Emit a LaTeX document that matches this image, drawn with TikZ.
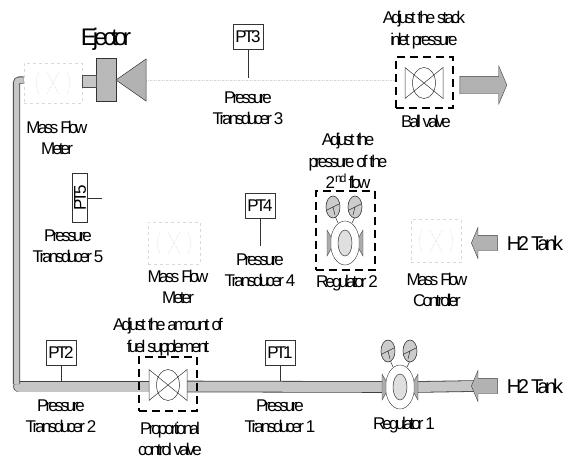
\documentclass[tikz,border=0pt]{standalone}
\usepackage{fontspec}
\setmainfont{Liberation Sans}[LetterSpace=-17]
\usetikzlibrary{arrows.meta,positioning,shapes.geometric,shapes.arrows}

\begin{document}
\begin{tikzpicture}[
    x=1pt, y=-1pt,
    font=\fontsize{17}{21.5}\selectfont,
    lbl/.style={align=center, inner sep=0pt},
    ptbox/.style={draw=black!80, minimum width=30pt, minimum height=25pt, inner sep=0pt},
    taps/.style={draw=black!80, line width=0.6pt},
    pipe/.style={draw=black!75, line width=0.8pt, double=gray!45, double distance=10pt},
    thinpipe/.style={draw=black!75, line width=0.8pt, double=gray!45, double distance=5.5pt, rounded corners=3pt},
    faint/.style={draw=gray!30, dashed, line width=0.6pt},
    faintline/.style={draw=gray!30, densely dotted, line width=0.6pt},
    dashbox/.style={draw, line width=2pt, dash pattern=on 8pt off 5pt},
    bigarrow/.style={single arrow, draw=black!75, fill=gray!60, inner xsep=0pt, inner ysep=7.5pt,
                     minimum height=26pt, single arrow head extend=8pt,
                     single arrow tip angle=134},
    gaugesym/.style={draw=black!80, fill=gray!40, line width=0.6pt},
    valvesym/.pic={
      \draw[black!80, line width=0.5pt, fill=white] (-19,-15.5) -- (19,15.5) -- (19,-15.5) -- (-19,15.5) -- cycle;
      \draw[black!80, line width=0.5pt] (0,0) ellipse [x radius=11.5, y radius=15.5];
    },
    regsym/.pic={
      \fill[gray!65, draw=black!70, line width=0.4pt] (-18,-13) -- (-14,-6) -- (-14,6) -- (-18,13) -- cycle;
      \fill[gray!65, draw=black!70, line width=0.4pt] (18,-13) -- (14,-6) -- (14,6) -- (18,13) -- cycle;
      \draw[black!80, fill=gray!25, line width=0.5pt] (0,0) ellipse [x radius=7, y radius=13];
      \draw[black!80, line width=0.5pt] (-7,-20) -- (-10,-27) (7,-20) -- (10,-26);
      \draw[gaugesym] (-12,-36) ellipse [x radius=7, y radius=11];
      \draw[gaugesym] (10,-36) ellipse [x radius=7, y radius=11];
      \draw[black!80, line width=0.5pt] (-18,-33) -- (-12,-36) -- (-6,-39) (-12,-36) -- (-10,-28);
      \draw[black!80, line width=0.5pt] (4,-33) -- (10,-36) -- (16,-39) (10,-36) -- (8,-28);
    },
    flowsym/.pic={
      \draw[faintline] (-14,-11) .. controls (-18,0) .. (-14,11);
      \draw[faintline] (14,-11) .. controls (18,0) .. (14,11);
      \draw[faintline] (-6,-11) -- (6,11) (6,-11) -- (-6,11);
    }
  ]
    \useasboundingbox (0,0) rectangle (568,459);

    % valves and regulators come first, the pipes end on them
    \node[minimum width=37pt, minimum height=31pt, inner sep=0pt] (pcv) at (168,385) {};
    \node[minimum width=37pt, minimum height=31pt, inner sep=0pt] (ballv) at (424,83) {};
    \node[draw=black!80, fill=white, ellipse, minimum width=29pt, minimum height=44pt, inner sep=0pt] (reg1) at (400,387) {};
    \node[draw=black!80, fill=white, ellipse, minimum width=29pt, minimum height=44pt, inner sep=0pt] (reg2) at (345,243) {};

    % ejector and meters
    \node[draw=black!80, fill=gray!55, minimum width=20pt, minimum height=43pt, inner sep=0pt] (ejbody) at (106,80) {};
    \node[faint, minimum width=58pt, minimum height=40pt, inner sep=0pt] (mfm1) at (53,83) {};
    \node[faint, minimum width=52pt, minimum height=42pt, inner sep=0pt] (mfm2) at (174,243) {};
    \node[faint, minimum width=50pt, minimum height=43pt, inner sep=0pt] (mfc) at (436,241) {};
    \pic at (mfm1) {flowsym};
    \pic at (mfm2) {flowsym};
    \pic at (mfc) {flowsym};
    \node[lbl, font=\fontsize{24}{24}\selectfont, above=8pt of ejbody] (ejtxt) {Ejector};
    \coordinate (tip) at (116,80);
    \coordinate (tipend) at (395,80);
    \coordinate (cornerb) at (19,386.5);
    \coordinate (cornerv) at (16.5,384);

    % pipes
    \draw[pipe, line cap=round] (cornerb) -- (pcv.west |- cornerb);
    \draw[thinpipe] (mfm1.west |- 0,80) -- (16.5,80) -- (cornerv);
    \draw[pipe] (pcv.east |- cornerb) -- (reg1.west);
    \draw[pipe] (reg1.east) -- (476,386);
    \draw[draw=black!70, line width=0.4pt, fill=gray!45] (mfm1.east |- 0,75) rectangle (ejbody.west |- 0,87);
    \draw[faintline] (tip) -- (tipend);
    \draw[draw=black!80, fill=gray!60, line width=0.5pt] (tip) -- ++(30,-21) -- ++(0,42) -- cycle;

    \pic at (pcv) {valvesym};
    \pic at (ballv) {valvesym};
    \pic at (reg1) {regsym};
    \pic at (reg2) {regsym};

    % boxes round the adjustable parts
    \node[dashbox, minimum width=58pt, minimum height=54pt] (pcvbox) at (168,384) {};
    \node[dashbox, minimum width=57pt, minimum height=51pt] (ballbox) at (424,82) {};
    \node[dashbox, minimum width=59pt, minimum height=79pt] (regbox) at (345,230) {};

    % big arrows
    \node[bigarrow, inner ysep=8.5pt, minimum height=47pt, single arrow head extend=10.5pt] (outarrow) at (481.5,85) {};
    \node[bigarrow, shape border rotate=180] (tank2arrow) at (486,243) {};
    \node[bigarrow, shape border rotate=180] (tank1arrow) at (486,386) {};
    \node[lbl, font=\fontsize{20}{21}\selectfont, right=9pt of tank2arrow] (tank2) {H2 Tank};
    \node[lbl, font=\fontsize{20}{21}\selectfont, right=9pt of tank1arrow] (tank1) {H2 Tank};

    % transducers
    \node[ptbox] (pt1) at (280,353) {PT1};
    \node[ptbox] (pt2) at (61,353) {PT2};
    \node[ptbox] (pt3) at (248,37) {PT3};
    \node[ptbox] (pt4) at (260,206) {PT4};
    \node[ptbox, minimum width=15pt, minimum height=49pt] (pt5) at (80,198) {\rotatebox{90}{PT5}};
    \coordinate (tap1) at (280,381);
    \coordinate (tap2) at (61,381);
    \coordinate (tap3) at (248,78);
    \coordinate (tap4) at (260,246);
    \coordinate (tap5) at (102,198);
    \draw[taps] (pt1) -- (tap1);
    \draw[taps] (pt2) -- (tap2);
    \draw[taps] (pt3) -- (tap3);
    \draw[taps] (pt4) -- (tap4);
    \draw[taps] (pt5) -- (tap5);

    % labels
    \node[lbl] (t1) at (280,416) {Pressure\\Transducer 1};
    \node[lbl] (t2) at (61,416) {Pressure\\Transducer 2};
    \node[lbl] (t3) at (248,108) {Pressure\\Transducer 3};
    \node[lbl] (t4) at (260,270) {Pressure\\Transducer 4};
    \node[lbl] (t5) at (68,246) {Pressure\\Transducer 5};
    \node[lbl] (m1) at (57,138) {Mass Flow\\Meter};
    \node[lbl] (m2) at (178,287) {Mass Flow\\Meter};
    \node[lbl] (m3) at (437,290) {Mass Flow\\Controller};
    \node[lbl] (adjstack) at (424,30) {Adjust the stack\\inlet pressure};
    \node[lbl] (adjflow) at (348,161) {Adjust the\\pressure of the\\2\textsuperscript{nd} flow};
    \node[lbl] (adjfuel) at (168,337) {Adjust the amount of\\fuel supplement};
    \node[lbl] (propv) at (170,439) {Proportional\\control valve};
    \node[lbl] (ballt) at (426,121) {Ball valve};
    \node[lbl] (r2t) at (347,283) {Regulator 2};
    \node[lbl] (r1t) at (404,425) {Regulator 1};
\end{tikzpicture}
\end{document}
